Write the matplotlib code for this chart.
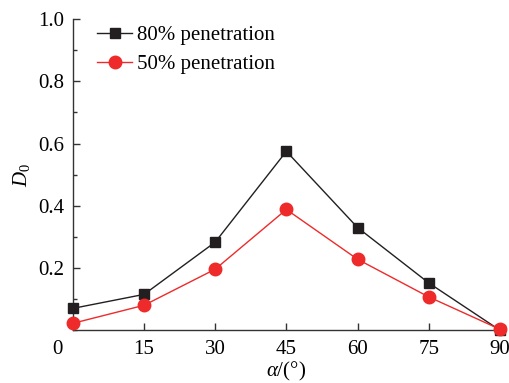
import numpy as np
import matplotlib.pyplot as plt
from matplotlib.ticker import MultipleLocator
import matplotlib.transforms as mtransforms

plt.rcParams["font.family"] = "Liberation Serif"
plt.rcParams["mathtext.fontset"] = "custom"
plt.rcParams["mathtext.rm"] = "Liberation Serif"
plt.rcParams["mathtext.it"] = "Liberation Serif:italic"

# data
alpha = [0, 15, 30, 45, 60, 75, 90]
d0_80 = [0.070, 0.115, 0.283, 0.575, 0.330, 0.152, 0.0]
d0_50 = [0.022, 0.080, 0.196, 0.388, 0.228, 0.107, 0.003]

black = "#231f20"
red = "#ee2a2a"

fig = plt.figure(figsize=(5.1, 3.83), dpi=100)
ax = fig.add_axes([0.143, 0.138, 0.837, 0.812])

ax.plot(alpha, d0_80, "-s", color=black, lw=1.0, ms=6.5,
        label="80% penetration", clip_on=False, zorder=3)
ax.plot(alpha, d0_50, "-o", color=red, lw=1.0, ms=9,
        label="50% penetration", clip_on=False, zorder=3)

ax.set_xlim(0, 90)
ax.set_ylim(0, 1.0)
ax.set_xticks(alpha)
ax.set_yticks([0.2, 0.4, 0.6, 0.8, 1.0])
ax.yaxis.set_minor_locator(MultipleLocator(0.1))

ax.spines["top"].set_visible(False)
ax.spines["right"].set_visible(False)
for s in ("left", "bottom"):
    ax.spines[s].set_color("#333333")
    ax.spines[s].set_linewidth(1.0)

ax.tick_params(axis="both", which="major", direction="in", length=5,
               width=1.0, color="#333333", labelsize=15)
ax.tick_params(axis="x", pad=7)
ax.tick_params(axis="y", pad=6)
ax.tick_params(axis="y", which="minor", direction="in", length=3,
               width=1.0, color="#333333")

# shift "0" label left like the reference
lbl0 = ax.get_xticklabels()[0]
lbl0.set_transform(lbl0.get_transform() +
                   mtransforms.ScaledTranslation(-15 / 100, 0, fig.dpi_scale_trans))

ax.set_xlabel(r"$\mathit{\alpha}$/(°)", fontsize=15, labelpad=1)
ax.set_ylabel(r"$\mathit{D}_0$", fontsize=15, labelpad=5)

leg = ax.legend(loc="upper left", bbox_to_anchor=(0.012, 1.04), frameon=False,
                fontsize=15, handlelength=1.7, handletextpad=0.25,
                labelspacing=0.45)

fig.savefig("out.png", dpi=100)
